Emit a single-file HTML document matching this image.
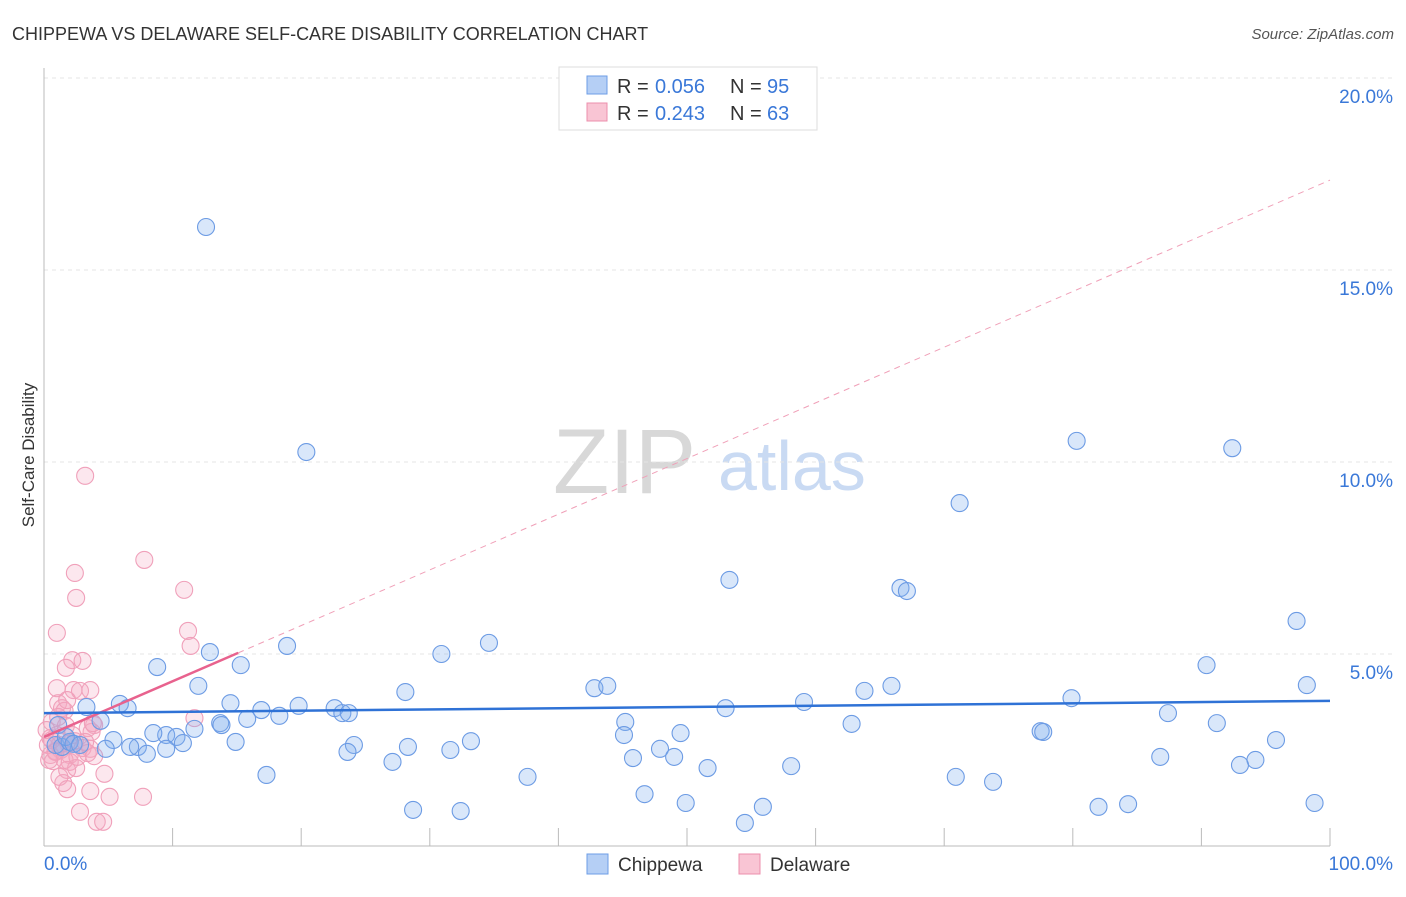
<!DOCTYPE html>
<html><head><meta charset="utf-8"><style>
body{margin:0;background:#fff;font-family:"Liberation Sans",sans-serif;}
svg text{font-family:"Liberation Sans",sans-serif;}
</style></head><body>
<svg id="chart" width="1406" height="892" xmlns="http://www.w3.org/2000/svg">
<text x="12" y="40" font-size="18" fill="#333">CHIPPEWA VS DELAWARE SELF-CARE DISABILITY CORRELATION CHART</text>
<text x="1394" y="39" font-size="15" fill="#555" font-style="italic" text-anchor="end">Source: ZipAtlas.com</text>
<g>
<text x="553" y="493" font-size="92" fill="#d8d8d8" font-family="Liberation Serif, serif">ZIP</text>
<text x="718" y="490" font-size="70" fill="#c9daf3">atlas</text>
</g>
<g id="grid"></g>
<g id="axes"></g>
<g id="marks"></g>
<text x="34" y="455" font-size="17" fill="#333" text-anchor="middle" transform="rotate(-90 34 455)">Self-Care Disability</text>
<g>
<rect x="559" y="67" width="258" height="63" fill="#fff" stroke="#ddd"/>
<rect x="587" y="76" width="20" height="18" fill="#b5cff5" stroke="#6d9de6"/>
<text x="617" y="93" font-size="20" fill="#333">R =</text>
<text x="655" y="93" font-size="20" fill="#3a78d8">0.056</text>
<text x="730" y="93" font-size="20" fill="#333">N =</text>
<text x="767" y="93" font-size="20" fill="#3a78d8">95</text>
<rect x="587" y="103" width="20" height="18" fill="#f9c5d4" stroke="#ec8fac"/>
<text x="617" y="120" font-size="20" fill="#333">R =</text>
<text x="655" y="120" font-size="20" fill="#3a78d8">0.243</text>
<text x="730" y="120" font-size="20" fill="#333">N =</text>
<text x="767" y="120" font-size="20" fill="#3a78d8">63</text>
</g>
<g>
<rect x="587" y="854" width="21" height="20" fill="#b5cff5" stroke="#6d9de6"/>
<text x="618" y="871" font-size="19" fill="#333">Chippewa</text>
<rect x="739" y="854" width="21" height="20" fill="#f9c5d4" stroke="#ec8fac"/>
<text x="770" y="871" font-size="19" fill="#333">Delaware</text>
</g>
</svg>
<script>
const yTicks=[5,10,15,20];
const yTickLabels=["5.0%","10.0%","15.0%","20.0%"];
const xTickVals=[0,10,20,30,40,50,60,70,80,90,100];
const chippewaX=[12.6,20.4,80.3,92.4,71.2,53.3,66.6,67.1,97.4,34.6,18.9,30.9,12.9,8.8,15.3,90.4,98.2,12.0,28.1,42.8,43.8,63.8,65.9,79.9,5.9,6.5,3.3,14.5,19.8,16.9,22.6,23.2,23.7,53.0,59.1,87.4,4.4,18.3,15.8,13.7,45.2,62.8,91.2,9.5,8.5,11.7,10.3,10.8,13.8,49.5,45.1,77.5,77.7,5.4,14.9,24.1,33.2,95.8,7.3,4.8,6.7,9.5,8.0,23.6,28.3,31.6,47.9,49.0,45.8,86.8,94.2,27.1,93.0,51.6,58.1,17.3,37.6,70.9,73.8,46.7,49.9,82.0,84.3,98.8,28.7,32.4,55.9,54.5,0.9,1.4,2.0,1.1,1.7,2.3,2.8];
const chippewaY=[16.12,10.26,10.55,10.36,8.93,6.93,6.72,6.64,5.86,5.29,5.21,5.0,5.05,4.66,4.71,4.71,4.19,4.17,4.01,4.11,4.17,4.04,4.17,3.85,3.70,3.59,3.62,3.72,3.65,3.54,3.59,3.46,3.46,3.59,3.75,3.46,3.26,3.39,3.31,3.20,3.23,3.18,3.20,2.89,2.94,3.05,2.84,2.68,3.15,2.94,2.89,2.99,2.97,2.76,2.71,2.63,2.73,2.76,2.58,2.53,2.58,2.53,2.40,2.45,2.58,2.50,2.53,2.32,2.29,2.32,2.24,2.19,2.11,2.03,2.08,1.85,1.80,1.80,1.67,1.35,1.12,1.02,1.09,1.12,0.94,0.91,1.02,0.60,2.63,2.58,2.71,3.15,2.84,2.66,2.63];
const delawareX=[3.2,7.8,2.4,2.5,10.9,1.0,11.2,11.4,2.2,3.0,1.7,1.0,2.3,2.8,3.6,1.1,1.4,1.6,0.6,1.7,3.9,1.0,0.5,11.7,3.7,3.4,2.4,1.9,3.0,3.6,1.3,0.9,0.5,2.0,3.4,3.9,0.7,2.0,1.8,2.5,4.7,1.5,1.2,1.8,3.6,5.1,7.7,2.8,4.1,4.6,1.2,0.3,0.6,0.9,2.2,0.2,1.6,3.2,2.6,0.4,1.1,1.8,3.8];
const delawareY=[9.64,7.45,7.11,6.46,6.67,5.55,5.60,5.21,4.84,4.82,4.64,4.11,4.06,4.04,4.06,3.72,3.59,3.52,3.23,3.13,3.15,2.89,2.81,3.33,2.97,3.07,2.73,2.66,2.55,2.53,2.50,2.47,2.37,2.37,2.42,2.34,2.21,2.19,1.98,2.03,1.88,1.64,1.80,1.48,1.43,1.28,1.28,0.89,0.63,0.63,2.63,2.63,2.76,2.45,2.89,3.02,2.24,2.71,2.32,2.24,3.36,3.80,3.20];
const chippewaTrend=[3.46,3.78];
const delawareTrend=[2.84,17.34];
const delawareSolidEnd=15.1;

const NS="http://www.w3.org/2000/svg";
const X0=44,X1=1330,Y0=846,PPY=38.4;
function sx(v){return X0+(X1-X0)*v/100;}
function sy(v){return Y0-v*PPY;}
function mk(tag,attrs,parent){const e=document.createElementNS(NS,tag);for(const k in attrs)e.setAttribute(k,attrs[k]);parent.appendChild(e);return e;}
const grid=document.getElementById('grid'),axes=document.getElementById('axes'),marks=document.getElementById('marks');
yTicks.forEach((t,i)=>{
  const l=mk('line',{x1:X0,x2:1393,y1:sy(t),y2:sy(t),stroke:'#e4e4e4','stroke-dasharray':'4,4'},grid);
  
  
  const tx=mk('text',{x:1393,y:sy(t)+25,'font-size':19,fill:'#3a78d8','text-anchor':'end'},axes);
  tx.textContent=yTickLabels[i];
  
  
});
const ya=mk('line',{x1:X0,x2:X0,y1:68,y2:Y0,stroke:'#bbb'},axes);


const xa=mk('line',{x1:X0,x2:X1,y1:Y0,y2:Y0,stroke:'#bbb'},axes);


xTickVals.forEach(v=>{
  const t=mk('line',{x1:sx(v),x2:sx(v),y1:828,y2:Y0,stroke:'#bbb'},axes);
  
  
});
const xl0=mk('text',{x:44,y:870,'font-size':19,fill:'#3a78d8'},axes);xl0.textContent='0.0%';


const xl1=mk('text',{x:1393,y:870,'font-size':19,fill:'#3a78d8','text-anchor':'end'},axes);xl1.textContent='100.0%';



delawareX.forEach((x,i)=>{
  const c=mk('circle',{cx:sx(x),cy:sy(delawareY[i]),r:8.5,fill:'rgba(246,170,195,0.28)',stroke:'#f0a0ba','stroke-width':1.1},marks);
  
  
});
chippewaX.forEach((x,i)=>{
  const c=mk('circle',{cx:sx(x),cy:sy(chippewaY[i]),r:8.5,fill:'rgba(130,175,240,0.3)',stroke:'#6c9be4','stroke-width':1.1},marks);
  
  
});
const pv=x=>delawareTrend[0]+(delawareTrend[1]-delawareTrend[0])*x/100;
const pd=mk('line',{x1:sx(delawareSolidEnd),y1:sy(pv(delawareSolidEnd)),x2:sx(100),y2:sy(pv(100)),stroke:'#f0a0b8','stroke-width':1,'stroke-dasharray':'6,5'},marks);


const ps=mk('line',{x1:sx(0),y1:sy(pv(0)),x2:sx(delawareSolidEnd),y2:sy(pv(delawareSolidEnd)),stroke:'#e8628e','stroke-width':2.5},marks);


const bl=mk('line',{x1:sx(0),y1:sy(chippewaTrend[0]),x2:sx(100),y2:sy(chippewaTrend[1]),stroke:'#2f72d6','stroke-width':2.5},marks);


</script>
</body></html>
